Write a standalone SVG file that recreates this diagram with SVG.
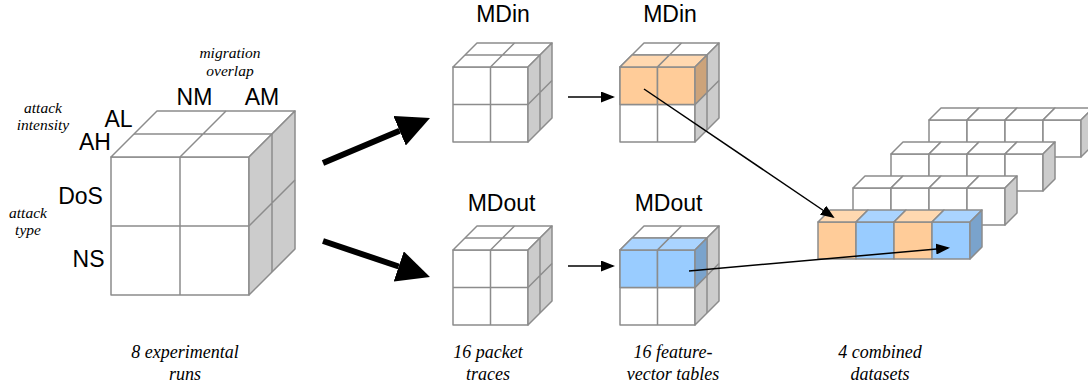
<svg xmlns="http://www.w3.org/2000/svg" xmlns:xlink="http://www.w3.org/1999/xlink" width="1088" height="388" viewBox="0 0 1088 388">
<style>
.f{fill:#ffffff;stroke:#8c8c8c;stroke-width:1.5;stroke-linejoin:round}
.s{fill:#cccccc;stroke:#8c8c8c;stroke-width:1.5;stroke-linejoin:round}
.ln{fill:none;stroke:#8c8c8c;stroke-width:1.5}
.o{fill:#ffcc99;stroke:#8c8c8c;stroke-width:1.5;stroke-linejoin:round}
.ot{fill:#ffd8b0;stroke:#8c8c8c;stroke-width:1.5;stroke-linejoin:round}
.os{fill:#cca37a;stroke:#8c8c8c;stroke-width:1.5;stroke-linejoin:round}
.b{fill:#99ccff;stroke:#8c8c8c;stroke-width:1.5;stroke-linejoin:round}
.bt{fill:#aad4ff;stroke:#8c8c8c;stroke-width:1.5;stroke-linejoin:round}
.bs{fill:#7aa3cc;stroke:#8c8c8c;stroke-width:1.5;stroke-linejoin:round}
.lab{font-family:"Liberation Sans",Arial,sans-serif;font-size:23px;fill:#000;text-anchor:middle}
.note{font-family:"Liberation Serif","Times New Roman",serif;font-style:italic;font-size:15.5px;fill:#000;text-anchor:middle}
.cap{font-family:"Liberation Serif","Times New Roman",serif;font-style:italic;font-size:18px;fill:#000;text-anchor:middle}
.thick{fill:none;stroke:#000;stroke-width:6}
.thin{fill:none;stroke:#000;stroke-width:1.5}
</style>
<defs>
<marker id="bighead" markerUnits="userSpaceOnUse" markerWidth="34" markerHeight="32" refX="0" refY="16" orient="auto">
<path d="M0,0 L33,16 L0,32 z" fill="#000"/>
</marker>
<marker id="head" markerUnits="userSpaceOnUse" markerWidth="14" markerHeight="11" refX="12" refY="5.5" orient="auto">
<path d="M0,0 L14,5.5 L0,11 z" fill="#000"/>
</marker>
<g id="smallcube">
<rect class="f" x="0" y="0" width="75" height="75"/>
<path class="ln" d="M37.5,0V75 M0,37.5H75"/>
<polygon class="f" points="0,0 24,-24 99,-24 75,0"/>
<path class="ln" d="M12,-12H87 M37.5,0L61.5,-24"/>
<polygon class="s" points="75,0 99,-24 99,51 75,75"/>
<path class="ln" d="M87,-12V63 M75,37.5L99,13.5"/>
</g>
<g id="wcube">
<rect class="f" x="0" y="0" width="38" height="37"/>
<polygon class="f" points="0,0 12,-12 50,-12 38,0"/>
</g>
<polygon id="rface" class="s" points="38,0 50,-12 50,25 38,37"/>
</defs>

<g id="experimental-runs-cube" transform="translate(111,157)">
<rect class="f" x="0" y="0" width="138" height="138"/>
<path class="ln" d="M69,0V138 M0,69H138"/>
<polygon class="f" points="0,0 46,-46 184,-46 138,0"/>
<path class="ln" d="M23,-23H161 M69,0L115,-46"/>
<polygon class="s" points="138,0 184,-46 184,92 138,138"/>
<path class="ln" d="M161,-23V115 M138,69L184,23"/>
</g>
<g id="axis-labels">
<text class="lab" x="194.5" y="105">NM</text>
<text class="lab" x="262" y="105">AM</text>
<text class="lab" x="118.5" y="127">AL</text>
<text class="lab" x="95" y="150">AH</text>
<text class="lab" x="80.5" y="204">DoS</text>
<text class="lab" x="88.5" y="267">NS</text>
<text class="note" x="230" y="58">migration</text>
<text class="note" x="230" y="76">overlap</text>
<text class="note" x="43" y="113">attack</text>
<text class="note" x="43" y="130">intensity</text>
<text class="note" x="28" y="218">attack</text>
<text class="note" x="28" y="235">type</text>
</g>

<g id="trace-mdin">
<text class="lab" x="503" y="22">MDin</text>
<use xlink:href="#smallcube" href="#smallcube" transform="translate(453,67)"/>
</g>
<g id="trace-mdout">
<text class="lab" x="501.5" y="211">MDout</text>
<use xlink:href="#smallcube" href="#smallcube" transform="translate(453,250)"/>
</g>
<g id="table-mdin">
<text class="lab" x="670" y="22">MDin</text>
<g transform="translate(620,67)">
<use xlink:href="#smallcube" href="#smallcube"/>
<rect class="o" x="0" y="0" width="37.5" height="37.5"/>
<rect class="o" x="37.5" y="0" width="37.5" height="37.5"/>
<polygon class="ot" points="0,0 12,-12 49.5,-12 37.5,0"/>
<polygon class="ot" points="37.5,0 49.5,-12 87,-12 75,0"/>
<polygon class="os" points="75,0 87,-12 87,25.5 75,37.5"/>
</g>
</g>
<g id="table-mdout">
<text class="lab" x="668.5" y="211">MDout</text>
<g transform="translate(620,250)">
<use xlink:href="#smallcube" href="#smallcube"/>
<rect class="b" x="0" y="0" width="37.5" height="37.5"/>
<rect class="b" x="37.5" y="0" width="37.5" height="37.5"/>
<polygon class="bt" points="0,0 12,-12 49.5,-12 37.5,0"/>
<polygon class="bt" points="37.5,0 49.5,-12 87,-12 75,0"/>
<polygon class="bs" points="75,0 87,-12 87,25.5 75,37.5"/>
</g>
</g>

<g id="combined-datasets">
<g transform="translate(929,120)">
<use xlink:href="#wcube" href="#wcube" x="0"/>
<use xlink:href="#wcube" href="#wcube" x="38"/>
<use xlink:href="#wcube" href="#wcube" x="76"/>
<use xlink:href="#wcube" href="#wcube" x="114"/>
<use xlink:href="#rface" href="#rface" x="114"/>
</g>
<g transform="translate(891,154)">
<use xlink:href="#wcube" href="#wcube" x="0"/>
<use xlink:href="#wcube" href="#wcube" x="38"/>
<use xlink:href="#wcube" href="#wcube" x="76"/>
<use xlink:href="#wcube" href="#wcube" x="114"/>
<use xlink:href="#rface" href="#rface" x="114"/>
</g>
<g transform="translate(853,188)">
<use xlink:href="#wcube" href="#wcube" x="0"/>
<use xlink:href="#wcube" href="#wcube" x="38"/>
<use xlink:href="#wcube" href="#wcube" x="76"/>
<use xlink:href="#wcube" href="#wcube" x="114"/>
<use xlink:href="#rface" href="#rface" x="114"/>
</g>
<g transform="translate(818,222)">
<rect class="o" x="0" y="0" width="38" height="37"/>
<polygon class="ot" points="0,0 12,-12 50,-12 38,0"/>
<rect class="b" x="38" y="0" width="38" height="37"/>
<polygon class="bt" points="38,0 50,-12 88,-12 76,0"/>
<rect class="o" x="76" y="0" width="38" height="37"/>
<polygon class="ot" points="76,0 88,-12 126,-12 114,0"/>
<rect class="b" x="114" y="0" width="38" height="37"/>
<polygon class="bt" points="114,0 126,-12 164,-12 152,0"/>
<polygon class="bs" points="152,0 164,-12 164,25 152,37"/>
</g>
</g>

<g id="captions">
<text class="cap" x="185" y="358">8 experimental</text>
<text class="cap" x="185" y="380">runs</text>
<text class="cap" x="488" y="358">16 packet</text>
<text class="cap" x="488" y="380">traces</text>
<text class="cap" x="673" y="358">16 feature-</text>
<text class="cap" x="673" y="380">vector tables</text>
<text class="cap" x="880" y="358">4 combined</text>
<text class="cap" x="880" y="380">datasets</text>
</g>

<g id="connectors">
<line class="thick" x1="323" y1="163" x2="399.6" y2="130.8" marker-end="url(#bighead)"/>
<line class="thick" x1="323" y1="241" x2="398.7" y2="266.5" marker-end="url(#bighead)"/>
<line class="thin" x1="568" y1="97" x2="613" y2="97" marker-end="url(#head)"/>
<line class="thin" x1="568" y1="266" x2="613" y2="266" marker-end="url(#head)"/>
<line class="thin" x1="644" y1="89" x2="833" y2="217" marker-end="url(#head)"/>
<line class="thin" x1="689" y1="271" x2="948" y2="248" marker-end="url(#head)"/>
</g>
</svg>
